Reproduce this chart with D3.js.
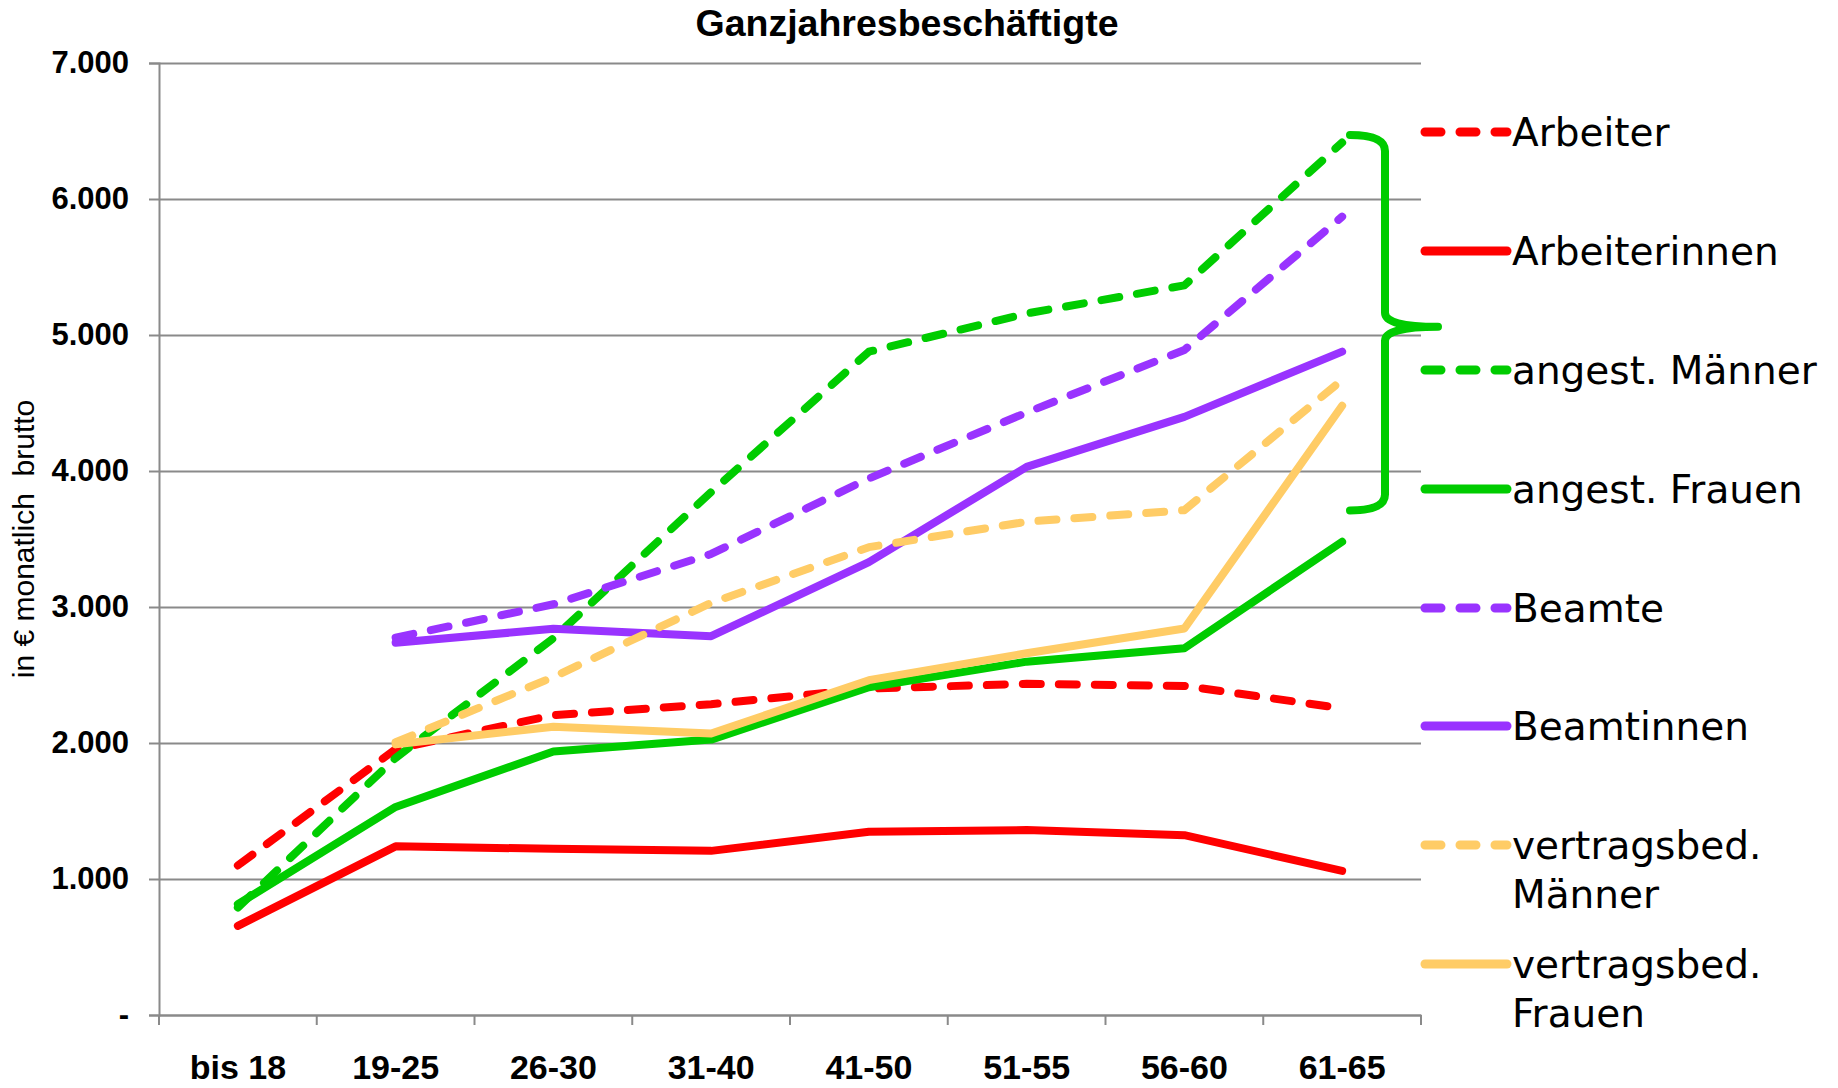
<!DOCTYPE html>
<html>
<head>
<meta charset="utf-8">
<script src="https://cdn.jsdelivr.net/npm/d3@7"></script>
<style>
    body { margin: 0; background: #fff; }
    svg { display: block; }
</style>
</head>
<body>
<script>
const title = "Ganzjahresbeschäftigte";
const yLabel = "in € monatlich  brutto";

const ageGroups = ["bis 18", "19-25", "26-30", "31-40", "41-50", "51-55", "56-60", "61-65"];
const yTicks = [0, 1000, 2000, 3000, 4000, 5000, 6000, 7000];

const seriesNames = ["Arbeiter", "Arbeiterinnen", "angest. Männer", "angest. Frauen",
    "Beamte", "Beamtinnen", "vertragsbed. Männer", "vertragsbed. Frauen"];
const seriesColors = ["#ff0000", "#ff0000", "#00cc00", "#00cc00",
    "#9933ff", "#9933ff", "#ffcc66", "#ffcc66"];
const seriesDashed = [true, false, true, false, true, false, true, false];

const arbeiter = [1100, 1955, 2205, 2285, 2400, 2435, 2420, 2255];
const arbeiterinnen = [655, 1240, 1222, 1207, 1348, 1360, 1322, 1060];
const angestMaenner = [790, 1890, 2770, 3845, 4877, 5158, 5365, 6415];
const angestFrauen = [815, 1530, 1937, 2025, 2410, 2598, 2697, 3480];
const beamte = [null, 2775, 3020, 3390, 3945, 4430, 4890, 5870];
const beamtinnen = [null, 2737, 2840, 2785, 3330, 4030, 4398, 4878];
const vertragsMaenner = [null, 2005, 2485, 3030, 3440, 3627, 3712, 4670];
const vertragsFrauen = [null, 1990, 2120, 2070, 2462, 2660, 2842, 4480];

// range the green brace spans (top, tip, bottom)
const braceValues = [6470, 5060, 3710];

const seriesValues = [arbeiter, arbeiterinnen, angestMaenner, angestFrauen,
    beamte, beamtinnen, vertragsMaenner, vertragsFrauen];

const series = seriesNames.map((name, i) => ({
    name: name,
    color: seriesColors[i],
    dashed: seriesDashed[i],
    values: seriesValues[i].map((v, j) => ({ age: ageGroups[j], value: v }))
}));

const W = 1838, H = 1088;
const margin = { top: 63, right: 417, bottom: 73, left: 159 },
    width = W - margin.left - margin.right,
    height = H - margin.top - margin.bottom;

const x = d3.scaleBand().domain(ageGroups).range([0, width]);
const y = d3.scaleLinear().domain([0, 7000]).range([height, 0]);

const de = d3.formatLocale({ decimal: ",", thousands: ".", grouping: [3], currency: ["", " €"] });
const fmt = de.format(",d");

const svg = d3.select("body")
    .append("svg")
    .attr("width", W)
    .attr("height", H);

const g = svg.append("g")
    .attr("transform", "translate(" + margin.left + "," + margin.top + ")");

/**
 * gridlines + y axis
 */
g.append("g")
    .attr("class", "grid")
    .call(d3.axisLeft(y).tickValues(yTicks).tickSize(-width).tickFormat(""))
    .call(s => s.select(".domain").remove())
    .selectAll("line")
    .attr("stroke", "#8a8a8a")
    .attr("stroke-width", 2);

const yAxis = g.append("g")
    .call(d3.axisLeft(y)
        .tickValues(yTicks)
        .tickSize(10)
        .tickPadding(20)
        .tickFormat(d => d === 0 ? "-" : fmt(d)));

yAxis.select(".domain").attr("stroke", "#8a8a8a").attr("stroke-width", 2);
yAxis.selectAll(".tick line").attr("stroke", "#8a8a8a").attr("stroke-width", 2);
yAxis.selectAll("text")
    .attr("fill", "#000")
    .style("font-family", "'Liberation Sans', Arial, sans-serif")
    .style("font-size", "31px")
    .style("font-weight", "bold");

/**
 * x axis, ticks sit between the groups
 */
const xAxis = g.append("g")
    .attr("transform", "translate(0," + height + ")")
    .call(d3.axisBottom(x).tickSize(0).tickPadding(40));

xAxis.select(".domain").attr("stroke", "#8a8a8a").attr("stroke-width", 2);
xAxis.selectAll("text")
    .attr("fill", "#000")
    .style("font-family", "'Liberation Sans', Arial, sans-serif")
    .style("font-size", "34px")
    .style("font-weight", "bold");

xAxis.selectAll(".edge")
    .data(d3.range(ageGroups.length + 1))
    .enter().append("line")
    .attr("class", "edge")
    .attr("x1", i => i * x.step())
    .attr("x2", i => i * x.step())
    .attr("y1", 0)
    .attr("y2", 10)
    .attr("stroke", "#8a8a8a")
    .attr("stroke-width", 2);

/**
 * lines
 */
const line = d3.line()
    .defined(d => d.value != null)
    .x(d => x(d.age) + x.bandwidth() / 2)
    .y(d => y(d.value));

g.selectAll(".series")
    .data(series)
    .enter().append("path")
    .attr("class", "series")
    .attr("d", d => line(d.values))
    .attr("fill", "none")
    .attr("stroke", d => d.color)
    .attr("stroke-width", 8)
    .attr("stroke-linecap", "round")
    .attr("stroke-linejoin", "round")
    .attr("stroke-dasharray", d => d.dashed ? "18,18" : null);

/**
 * curly brace
 */
const bx0 = width - 71, bxv = width - 36, bxt = width + 17;
const bTop = y(braceValues[0]), bMid = y(braceValues[1]), bBot = y(braceValues[2]);
const brace = d3.path();
brace.moveTo(bx0, bTop);
brace.quadraticCurveTo(bxv, bTop, bxv, bTop + 16);
brace.lineTo(bxv, bMid - 14);
brace.quadraticCurveTo(bxv, bMid, bxt, bMid);
brace.quadraticCurveTo(bxv, bMid, bxv, bMid + 14);
brace.lineTo(bxv, bBot - 16);
brace.quadraticCurveTo(bxv, bBot, bx0, bBot);

g.append("path")
    .attr("d", brace.toString())
    .attr("fill", "none")
    .attr("stroke", "#00cc00")
    .attr("stroke-width", 8)
    .attr("stroke-linecap", "round")
    .attr("stroke-linejoin", "round");

/**
 * legend
 */
const legendY = [132, 251, 370, 489, 608, 726, 845, 964];

const legend = svg.selectAll(".legend")
    .data(series)
    .enter().append("g")
    .attr("class", "legend")
    .attr("transform", (d, i) => "translate(1425," + legendY[i] + ")");

legend.append("line")
    .attr("x1", 0)
    .attr("x2", 82)
    .attr("stroke", d => d.color)
    .attr("stroke-width", 9)
    .attr("stroke-linecap", "round")
    .attr("stroke-dasharray", d => d.dashed ? "16,19" : null);

legend.append("text")
    .attr("x", 87)
    .attr("y", 14)
    .style("font-family", "'DejaVu Sans', sans-serif")
    .style("font-size", "39px")
    .attr("fill", "#000")
    .each(function (d) {
        const parts = d.name.startsWith("vertragsbed.") ? ["vertragsbed.", d.name.slice(13)] : [d.name];
        parts.forEach((p, k) => {
            d3.select(this).append("tspan")
                .attr("x", 87)
                .attr("dy", k === 0 ? 0 : 49)
                .text(p);
        });
    });

/**
 * titles
 */
svg.append("text")
    .attr("x", 907)
    .attr("y", 36)
    .attr("text-anchor", "middle")
    .style("font-family", "'Liberation Sans', Arial, sans-serif")
    .style("font-size", "37.5px")
    .style("font-weight", "bold")
    .text(title);

svg.append("text")
    .attr("transform", "translate(34,539) rotate(-90)")
    .attr("text-anchor", "middle")
    .style("font-family", "'Liberation Sans', Arial, sans-serif")
    .style("font-size", "30px")
    .style("white-space", "pre")
    .text(yLabel);
</script>
</body>
</html>
